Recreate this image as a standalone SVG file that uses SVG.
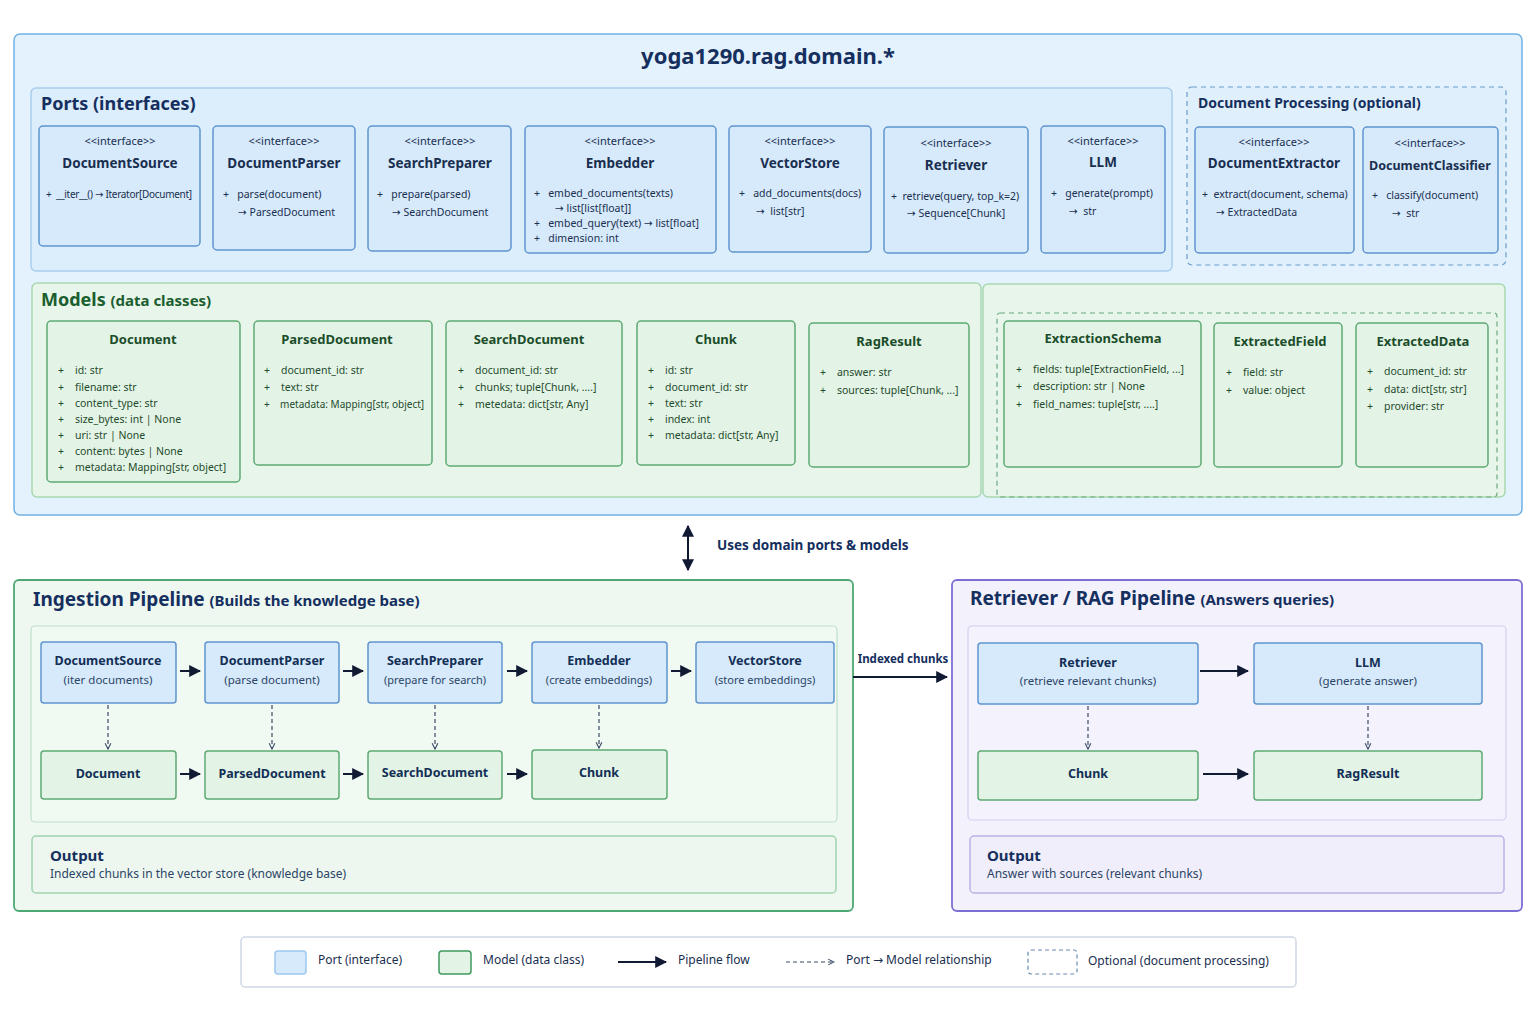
<svg xmlns="http://www.w3.org/2000/svg" width="1536" height="1024" viewBox="0 0 1536 1024">
<defs>
<style>
text{font-family:"Noto Sans","Open Sans",sans-serif;fill:#1a2f4f;white-space:pre}
.a{font-family:"DejaVu Sans",sans-serif}
.st{font-size:11px;text-anchor:middle}
.nm{font-size:13.5px;font-weight:bold;text-anchor:middle}
.m{font-size:10.5px}
.gm{font-size:10.5px;fill:#1f4a2c}
.gn{font-size:13px;font-weight:bold;text-anchor:middle;fill:#1b4d2a}
.port{fill:#d6eafc;stroke:#5f95cf;stroke-width:1.5}
.model{fill:#e3f4e6;stroke:#5daa73;stroke-width:1.5}
.pn{font-size:12.5px;font-weight:bold;text-anchor:middle;fill:#132f55}
.ps{font-size:11.5px;text-anchor:middle;fill:#2c4566}
.flow{stroke:#111a33;stroke-width:2;fill:none;marker-end:url(#ah)}
.dash{stroke:#3a4a66;stroke-width:1.2;stroke-dasharray:4 3;fill:none;marker-end:url(#ahs)}
</style>
<marker id="ah" viewBox="0 0 10 10" refX="9" refY="5" markerWidth="6" markerHeight="6" orient="auto-start-reverse"><path d="M0,0L10,5L0,10z" fill="#111a33"/></marker>
<marker id="ahs" viewBox="0 0 10 10" refX="9" refY="5" markerWidth="6" markerHeight="6" orient="auto"><path d="M1,1L9,5L1,9" fill="none" stroke="#3a4a66" stroke-width="1.5"/></marker>
</defs>
<rect width="1536" height="1024" fill="#ffffff"/>

<g id="domain">
<rect x="14" y="34" width="1508" height="481" rx="6" fill="#e4f2fd" stroke="#6fb2e6" stroke-width="1.5"/>
<text x="768" y="64" style="font-size:22px;font-weight:bold;text-anchor:middle;fill:#152f5e">yoga1290.rag.domain.*</text>
<rect x="31" y="88" width="1141" height="183" rx="5" fill="#dcedfb" stroke="#a8cdee" stroke-width="1.5"/>
<text x="41" y="110" style="font-size:18px;font-weight:bold;fill:#152f5e">Ports (interfaces)</text>
<rect x="1187" y="87" width="319" height="178" rx="5" fill="#e0effc" stroke="#6a9ccc" stroke-width="1.2" stroke-dasharray="5 4"/>
<text x="1198" y="108" style="font-size:14px;font-weight:bold;fill:#152f5e">Document Processing (optional)</text>
<rect x="32" y="283" width="949" height="214" rx="5" fill="#e7f5ea" stroke="#a9d8b1" stroke-width="1.5"/>
<text x="41" y="306" style="font-size:18px;font-weight:bold;fill:#1b5e2f">Models <tspan style="font-size:15px">(data classes)</tspan></text>
<rect x="983" y="284" width="522" height="213" rx="5" fill="#e7f5ea" stroke="#a9d8b1" stroke-width="1.5"/>
<rect x="997" y="313" width="500" height="184" rx="3" fill="none" stroke="#6aa97e" stroke-width="1.2" stroke-dasharray="5 4"/>
</g>

<g id="p-documentsource"><rect class="port" x="39" y="126" width="161" height="120" rx="4"/><text class="st" x="120" y="145">&lt;&lt;interface&gt;&gt;</text><text class="nm" x="120" y="168">DocumentSource</text><text class="m" x="46" y="198" style="font-size:10px;letter-spacing:-0.3px">+  __iter__() <tspan class="a">→</tspan> Iterator[Document]</text></g>
<g id="p-documentparser"><rect class="port" x="213" y="126" width="142" height="124" rx="4"/><text class="st" x="284" y="145">&lt;&lt;interface&gt;&gt;</text><text class="nm" x="284" y="168">DocumentParser</text><text class="m" x="223" y="198">+   parse(document)</text><text class="m" x="238" y="216"><tspan class="a">→</tspan> ParsedDocument</text></g>
<g id="p-searchpreparer"><rect class="port" x="368" y="126" width="143" height="125" rx="4"/><text class="st" x="440" y="145">&lt;&lt;interface&gt;&gt;</text><text class="nm" x="440" y="168">SearchPreparer</text><text class="m" x="377" y="198">+   prepare(parsed)</text><text class="m" x="392" y="216"><tspan class="a">→</tspan> SearchDocument</text></g>
<g id="p-embedder"><rect class="port" x="525" y="126" width="191" height="127" rx="4"/><text class="st" x="620" y="145">&lt;&lt;interface&gt;&gt;</text><text class="nm" x="620" y="168">Embedder</text><text class="m" x="534" y="197">+   embed_documents(texts)</text><text class="m" x="555" y="212"><tspan class="a">→</tspan> list[list[float]]</text><text class="m" x="534" y="227">+   embed_query(text) <tspan class="a">→</tspan> list[float]</text><text class="m" x="534" y="242">+   dimension: int</text></g>
<g id="p-vectorstore"><rect class="port" x="729" y="126" width="142" height="126" rx="4"/><text class="st" x="800" y="145">&lt;&lt;interface&gt;&gt;</text><text class="nm" x="800" y="168">VectorStore</text><text class="m" x="739" y="197">+   add_documents(docs)</text><text class="m" x="756" y="215"><tspan class="a">→</tspan>  list[str]</text></g>
<g id="p-retriever"><rect class="port" x="884" y="127" width="144" height="126" rx="4"/><text class="st" x="956" y="147">&lt;&lt;interface&gt;&gt;</text><text class="nm" x="956" y="170">Retriever</text><text class="m" x="891" y="200">+  retrieve(query, top_k=2)</text><text class="m" x="907" y="217"><tspan class="a">→</tspan> Sequence[Chunk]</text></g>
<g id="p-llm"><rect class="port" x="1041" y="126" width="124" height="127" rx="4"/><text class="st" x="1103" y="145">&lt;&lt;interface&gt;&gt;</text><text class="nm" x="1103" y="167">LLM</text><text class="m" x="1051" y="197">+   generate(prompt)</text><text class="m" x="1069" y="215"><tspan class="a">→</tspan>  str</text></g>
<g id="p-documentextractor"><rect class="port" x="1195" y="127" width="159" height="126" rx="4"/><text class="st" x="1274" y="146">&lt;&lt;interface&gt;&gt;</text><text class="nm" x="1274" y="168">DocumentExtractor</text><text class="m" x="1202" y="198">+  extract(document, schema)</text><text class="m" x="1216" y="216"><tspan class="a">→</tspan> ExtractedData</text></g>
<g id="p-documentclassifier"><rect class="port" x="1363" y="127" width="135" height="126" rx="4"/><text class="st" x="1430" y="147">&lt;&lt;interface&gt;&gt;</text><text class="nm" x="1430" y="170" style="font-size:12.5px">DocumentClassifier</text><text class="m" x="1372" y="199">+   classify(document)</text><text class="m" x="1392" y="217"><tspan class="a">→</tspan>  str</text></g>

<g id="m-document"><rect class="model" x="47" y="321" width="193" height="161" rx="4"/><text class="gn" x="143" y="344">Document</text><text class="gm" x="58" y="374">+    id: str</text><text class="gm" x="58" y="391">+    filename: str</text><text class="gm" x="58" y="407">+    content_type: str</text><text class="gm" x="58" y="423">+    size_bytes: int | None</text><text class="gm" x="58" y="439">+    uri: str | None</text><text class="gm" x="58" y="455">+    content: bytes | None</text><text class="gm" x="58" y="471">+    metadata: Mapping[str, object]</text></g>
<g id="m-parseddocument"><rect class="model" x="254" y="321" width="178" height="144" rx="4"/><text class="gn" x="337" y="344">ParsedDocument</text><text class="gm" x="264" y="374">+    document_id: str</text><text class="gm" x="264" y="391">+    text: str</text><text class="gm" x="264" y="408" style="font-size:10px">+    metadata: Mapping[str, object]</text></g>
<g id="m-searchdocument"><rect class="model" x="446" y="321" width="176" height="145" rx="4"/><text class="gn" x="529" y="344">SearchDocument</text><text class="gm" x="458" y="374">+    document_id: str</text><text class="gm" x="458" y="391">+    chunks; tuple[Chunk, ....]</text><text class="gm" x="458" y="408">+    metedata: dict[str, Any]</text></g>
<g id="m-chunk"><rect class="model" x="637" y="321" width="158" height="144" rx="4"/><text class="gn" x="716" y="344">Chunk</text><text class="gm" x="648" y="374">+    id: str</text><text class="gm" x="648" y="391">+    document_id: str</text><text class="gm" x="648" y="407">+    text: str</text><text class="gm" x="648" y="423">+    index: int</text><text class="gm" x="648" y="439">+    metadata: dict[str, Any]</text></g>
<g id="m-ragresult"><rect class="model" x="809" y="323" width="160" height="144" rx="4"/><text class="gn" x="889" y="346">RagResult</text><text class="gm" x="820" y="376">+    answer: str</text><text class="gm" x="820" y="394">+    sources: tuple[Chunk, ...]</text></g>
<g id="m-extractionschema"><rect class="model" x="1004" y="321" width="197" height="146" rx="4"/><text class="gn" x="1103" y="343">ExtractionSchema</text><text class="gm" x="1016" y="373">+    fields: tuple[ExtractionField, ...]</text><text class="gm" x="1016" y="390">+    description: str | None</text><text class="gm" x="1016" y="408">+    field_names: tuple[str, ....]</text></g>
<g id="m-extractedfield"><rect class="model" x="1214" y="323" width="128" height="144" rx="4"/><text class="gn" x="1280" y="346">ExtractedField</text><text class="gm" x="1226" y="376">+    field: str</text><text class="gm" x="1226" y="394">+    value: object</text></g>
<g id="m-extracteddata"><rect class="model" x="1356" y="323" width="132" height="144" rx="4"/><text class="gn" x="1423" y="346">ExtractedData</text><text class="gm" x="1367" y="375">+    document_id: str</text><text class="gm" x="1367" y="393">+    data: dict[str, str]</text><text class="gm" x="1367" y="410">+    provider: str</text></g>

<g id="ingestion">
<rect x="14" y="580" width="839" height="331" rx="5" fill="#eef8f1" stroke="#4ea874" stroke-width="1.8"/>
<text x="33" y="606" style="font-size:19px;font-weight:bold;fill:#152f5e">Ingestion Pipeline <tspan style="font-size:15px">(Builds the knowledge base)</tspan></text>
<rect x="31" y="626" width="806" height="196" rx="4" fill="#f1f9f3" stroke="#bfe0c8" stroke-width="1.2"/>
<rect x="32" y="836" width="804" height="57" rx="4" fill="#edf7ef" stroke="#9fd3ad" stroke-width="1.5"/>
<text x="50" y="861" style="font-size:15px;font-weight:bold;fill:#152f5e">Output</text>
<text x="50" y="878" style="font-size:12px;fill:#2c4566">Indexed chunks in the vector store (knowledge base)</text>
</g>
<g id="retrieval">
<rect x="952" y="580" width="570" height="331" rx="5" fill="#f2f1fc" stroke="#7c6fd4" stroke-width="1.8"/>
<text x="970" y="605" style="font-size:19px;font-weight:bold;fill:#152f5e">Retriever / RAG Pipeline <tspan style="font-size:15px">(Answers queries)</tspan></text>
<rect x="968" y="626" width="538" height="194" rx="4" fill="#f4f3fd" stroke="#d3cff0" stroke-width="1.2"/>
<rect x="970" y="836" width="534" height="57" rx="4" fill="#f0eefb" stroke="#b9b2e6" stroke-width="1.5"/>
<text x="987" y="861" style="font-size:15px;font-weight:bold;fill:#152f5e">Output</text>
<text x="987" y="878" style="font-size:12px;fill:#2c4566">Answer with sources (relevant chunks)</text>
</g>

<g id="i-documentsource"><rect class="port" x="41" y="642" width="135" height="61" rx="3"/><text class="pn" x="108" y="665">DocumentSource</text><text class="ps" x="108" y="684">(iter documents)</text></g>
<g id="i-documentparser"><rect class="port" x="205" y="642" width="134" height="61" rx="3"/><text class="pn" x="272" y="665">DocumentParser</text><text class="ps" x="272" y="684">(parse document)</text></g>
<g id="i-searchpreparer"><rect class="port" x="368" y="642" width="134" height="61" rx="3"/><text class="pn" x="435" y="665">SearchPreparer</text><text class="ps" x="435" y="684" style="font-size:11px">(prepare for search)</text></g>
<g id="i-embedder"><rect class="port" x="532" y="642" width="135" height="61" rx="3"/><text class="pn" x="599" y="665">Embedder</text><text class="ps" x="599" y="684" style="font-size:11px">(create embeddings)</text></g>
<g id="i-vectorstore"><rect class="port" x="696" y="642" width="138" height="61" rx="3"/><text class="pn" x="765" y="665">VectorStore</text><text class="ps" x="765" y="684" style="font-size:11px">(store embeddings)</text></g>
<g id="i-document"><rect class="model" x="41" y="751" width="135" height="48" rx="3"/><text class="pn" x="108" y="778">Document</text></g>
<g id="i-parseddocument"><rect class="model" x="205" y="751" width="134" height="48" rx="3"/><text class="pn" x="272" y="778">ParsedDocument</text></g>
<g id="i-searchdocument"><rect class="model" x="368" y="751" width="134" height="48" rx="3"/><text class="pn" x="435" y="777">SearchDocument</text></g>
<g id="i-chunk"><rect class="model" x="532" y="750" width="135" height="49" rx="3"/><text class="pn" x="599" y="777">Chunk</text></g>

<g id="r-retriever"><rect class="port" x="978" y="643" width="220" height="61" rx="3"/><text class="pn" x="1088" y="667">Retriever</text><text class="ps" x="1088" y="685">(retrieve relevant chunks)</text></g>
<g id="r-llm"><rect class="port" x="1254" y="643" width="228" height="61" rx="3"/><text class="pn" x="1368" y="667">LLM</text><text class="ps" x="1368" y="685">(generate answer)</text></g>
<g id="r-chunk"><rect class="model" x="978" y="751" width="220" height="49" rx="3"/><text class="pn" x="1088" y="778">Chunk</text></g>
<g id="r-ragresult"><rect class="model" x="1254" y="751" width="228" height="49" rx="3"/><text class="pn" x="1368" y="778">RagResult</text></g>

<g id="connectors">
<line x1="688" y1="526" x2="688" y2="570" style="stroke:#111a33;stroke-width:2;marker-start:url(#ah);marker-end:url(#ah)"/>
<text x="717" y="550" style="font-size:13.5px;font-weight:bold;fill:#152f5e">Uses domain ports &amp; models</text>
<line class="flow" x1="180" y1="671" x2="200" y2="671"/>
<line class="flow" x1="343" y1="671" x2="363" y2="671"/>
<line class="flow" x1="507" y1="671" x2="527" y2="671"/>
<line class="flow" x1="671" y1="671" x2="691" y2="671"/>
<line class="flow" x1="180" y1="774" x2="200" y2="774"/>
<line class="flow" x1="343" y1="774" x2="363" y2="774"/>
<line class="flow" x1="507" y1="774" x2="527" y2="774"/>
<line class="dash" x1="108" y1="705" x2="108" y2="749"/>
<line class="dash" x1="272" y1="705" x2="272" y2="749"/>
<line class="dash" x1="435" y1="705" x2="435" y2="749"/>
<line class="dash" x1="599" y1="705" x2="599" y2="748"/>
<line class="flow" x1="853" y1="677" x2="947" y2="677"/>
<text x="903" y="663" style="font-size:11.5px;font-weight:bold;text-anchor:middle;fill:#152f5e">Indexed chunks</text>
<line class="flow" x1="1200" y1="671" x2="1248" y2="671"/>
<line class="flow" x1="1203" y1="774" x2="1248" y2="774"/>
<line class="dash" x1="1088" y1="706" x2="1088" y2="749"/>
<line class="dash" x1="1368" y1="706" x2="1368" y2="749"/>
</g>

<g id="legend">
<rect x="241" y="937" width="1055" height="50" rx="4" fill="#ffffff" stroke="#cfd8e3" stroke-width="1.5"/>
<rect x="275" y="951" width="31" height="23" rx="3" class="port" style="stroke:#9cc7ef"/>
<text x="318" y="964" style="font-size:12px">Port (interface)</text>
<rect x="439" y="951" width="32" height="23" rx="3" class="model" style="stroke:#3f9a5e"/>
<text x="483" y="964" style="font-size:12px">Model (data class)</text>
<line class="flow" x1="618" y1="962" x2="666" y2="962"/>
<text x="678" y="964" style="font-size:12px">Pipeline flow</text>
<line class="dash" x1="786" y1="962" x2="834" y2="962"/>
<text x="846" y="964" style="font-size:12px">Port <tspan class="a">→</tspan> Model relationship</text>
<rect x="1028" y="950" width="49" height="24" rx="3" fill="none" stroke="#6a8cb0" stroke-width="1.2" stroke-dasharray="4 3"/>
<text x="1088" y="965" style="font-size:12px">Optional (document processing)</text>
</g>
</svg>
